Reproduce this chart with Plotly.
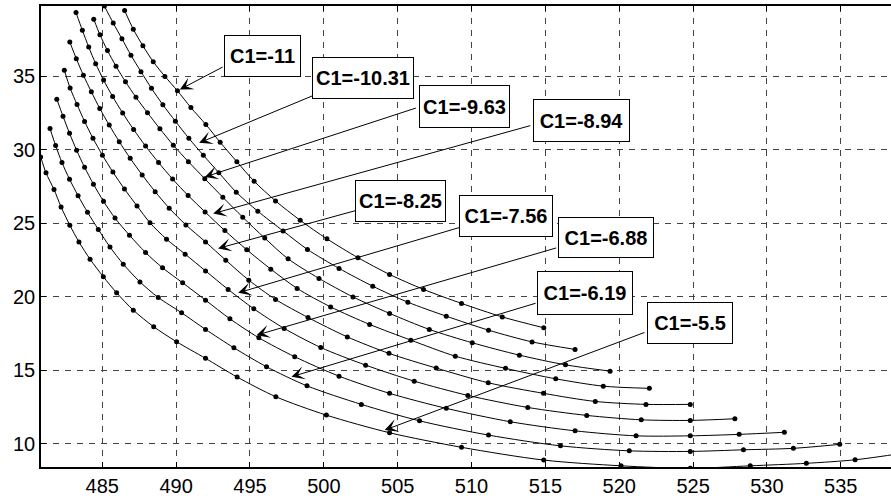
import plotly.graph_objects as go

# Constant-C1 curves: abscissa / ordinate of the computed points
x_c1_m11 = [486.51, 487.10, 487.75, 488.45, 489.24, 490.09, 491.00, 492.01, 492.98, 494.11,
            495.28, 496.73, 498.40, 500.21, 502.31, 504.45, 506.75, 509.32, 512.08, 514.89]
y_c1_m11 = [39.47, 38.20, 37.07, 35.99, 34.99, 34.01, 32.87, 31.72, 30.51, 29.19,
            27.86, 26.52, 25.20, 23.94, 22.66, 21.52, 20.50, 19.55, 18.63, 17.89]

x_c1_m1031 = [485.14, 485.74, 486.33, 486.94, 487.62, 488.33, 489.10, 489.95, 490.86, 491.84, 492.89,
              494.07, 495.53, 497.24, 498.89, 501.03, 503.31, 505.69, 508.29, 511.15, 514.10, 517.01]
y_c1_m1031 = [39.78, 38.62, 37.55, 36.43, 35.31, 34.18, 33.06, 31.94, 30.78, 29.63, 28.44,
              27.11, 25.82, 24.48, 23.22, 21.93, 20.72, 19.63, 18.68, 17.73, 16.93, 16.42]

x_c1_m963 = [484.42, 484.84, 485.35, 485.93, 486.57, 487.28, 488.06, 488.90, 489.81, 490.83, 491.94, 493.16,
             494.51, 496.00, 497.58, 499.67, 501.97, 504.45, 507.14, 510.05, 513.24, 516.36, 519.38]
y_c1_m963 = [38.88, 37.83, 36.75, 35.68, 34.63, 33.57, 32.52, 31.43, 30.31, 29.19, 28.03, 26.77,
             25.41, 23.99, 22.58, 21.25, 19.99, 18.87, 17.78, 16.87, 16.03, 15.37, 14.94]

x_c1_m894 = [483.22, 483.65, 484.08, 484.55, 485.09, 485.70, 486.38, 487.12, 487.93, 488.81, 489.76, 490.81,
             491.96, 493.30, 494.78, 496.41, 498.19, 500.46, 503.10, 505.89, 508.90, 512.30, 515.70, 518.92, 522.04]
y_c1_m894 = [39.33, 38.13, 36.99, 35.86, 34.74, 33.62, 32.50, 31.38, 30.25, 29.13, 28.01, 26.89,
             25.77, 24.50, 23.20, 21.88, 20.57, 19.31, 18.12, 17.05, 15.96, 15.13, 14.42, 13.92, 13.77]

x_c1_m825 = [482.80, 483.24, 483.72, 484.26, 484.83, 485.47, 486.15, 486.89, 487.70, 488.58, 489.53, 490.66,
             491.99, 493.36, 494.92, 496.73, 498.93, 501.59, 504.41, 507.61, 511.13, 514.87, 518.38, 521.81, 524.81]
y_c1_m825 = [37.33, 36.20, 35.07, 33.94, 32.81, 31.68, 30.55, 29.42, 28.29, 27.15, 26.03, 24.89,
             23.73, 22.49, 21.13, 19.82, 18.59, 17.27, 16.15, 15.15, 14.15, 13.43, 12.88, 12.68, 12.68]

x_c1_m756 = [482.43, 482.82, 483.29, 483.80, 484.37, 485.01, 485.72, 486.50, 487.35, 488.23, 489.35, 490.61,
             491.99, 493.52, 495.26, 497.31, 499.79, 502.83, 506.12, 509.75, 513.81, 517.80, 521.49, 524.81, 527.83]
y_c1_m756 = [35.41, 34.20, 33.08, 31.93, 30.78, 29.63, 28.48, 27.33, 26.18, 25.03, 23.92, 22.90,
             21.76, 20.50, 19.18, 17.85, 16.55, 15.35, 14.26, 13.29, 12.47, 11.93, 11.63, 11.59, 11.70]

x_c1_m688 = [481.92, 482.34, 482.78, 483.26, 483.80, 484.40, 485.08, 485.86, 486.84, 487.93, 489.08, 490.44,
             491.99, 493.64, 495.60, 498.03, 501.03, 504.45, 508.29, 512.62, 517.01, 521.14, 524.81, 528.12, 531.18]
y_c1_m688 = [33.44, 32.28, 31.12, 29.97, 28.81, 27.66, 26.50, 25.35, 24.19, 23.01, 21.97, 20.95,
             19.77, 18.50, 17.21, 15.92, 14.60, 13.43, 12.41, 11.50, 10.88, 10.54, 10.54, 10.64, 10.78]

x_c1_m619 = [481.46, 481.84, 482.27, 482.78, 483.36, 484.00, 484.73, 485.52, 486.42, 487.55, 488.79, 490.37,
             491.99, 493.91, 496.12, 498.86, 502.54, 506.48, 511.15, 516.02, 520.68, 524.81, 528.41, 531.79, 534.93]
y_c1_m619 = [31.44, 30.29, 29.13, 28.00, 26.88, 25.75, 24.58, 23.39, 22.22, 21.01, 19.95, 18.91,
             17.78, 16.53, 15.24, 13.94, 12.68, 11.56, 10.59, 9.86, 9.52, 9.48, 9.59, 9.69, 9.96]

x_c1_m55 = [480.83, 481.19, 481.73, 482.21, 482.80, 483.42, 484.17, 485.07, 485.97, 487.10, 488.48, 490.03,
            491.99, 494.13, 496.75, 500.17, 504.45, 509.32, 514.89, 520.12, 524.81, 528.87, 532.67, 535.97, 539.28]
y_c1_m55 = [29.51, 28.43, 27.30, 26.11, 24.87, 23.73, 22.56, 21.36, 20.27, 19.09, 17.96, 16.94,
            15.81, 14.54, 13.20, 11.95, 10.75, 9.76, 8.89, 8.50, 8.33, 8.50, 8.67, 8.91, 9.37]

curves_x = [x_c1_m11, x_c1_m1031, x_c1_m963, x_c1_m894, x_c1_m825,
            x_c1_m756, x_c1_m688, x_c1_m619, x_c1_m55]
curves_y = [y_c1_m11, y_c1_m1031, y_c1_m963, y_c1_m894, y_c1_m825,
            y_c1_m756, y_c1_m688, y_c1_m619, y_c1_m55]

# Labels, the point each arrow targets, the arrow tail, and the label box centre
label_text = ["C1=-11", "C1=-10.31", "C1=-9.63", "C1=-8.94", "C1=-8.25",
              "C1=-7.56", "C1=-6.88", "C1=-6.19", "C1=-5.5"]
tip_x = [490.25, 491.56, 491.94, 492.51, 492.84, 494.20, 495.44, 497.81, 504.12]
tip_y = [34.10, 30.47, 28.15, 25.66, 23.29, 20.27, 17.39, 14.56, 10.93]
tail_x = [493.25, 499.45, 506.33, 514.08, 502.43, 509.48, 515.83, 514.44, 521.81]
tail_y = [35.68, 33.76, 32.87, 31.67, 25.94, 24.80, 23.35, 19.59, 17.61]
box_x = [495.85, 502.65, 509.51, 517.42, 505.18, 512.30, 519.07, 517.67, 524.82]
box_y = [36.41, 34.90, 32.97, 31.99, 26.54, 25.52, 24.00, 20.23, 18.19]
box_w = [75, 100, 89, 95, 89, 92, 94, 94, 84]
box_h = [40, 40, 41, 41, 40, 40, 39, 42, 40]

x_ticks = [485, 490, 495, 500, 505, 510, 515, 520, 525, 530, 535]
y_ticks = [10, 15, 20, 25, 30, 35]

fig = go.Figure()

for cx, cy in zip(curves_x, curves_y):
    fig.add_trace(go.Scatter(
        x=cx, y=cy, mode="lines+markers",
        line=dict(color="black", width=1, shape="spline", smoothing=0.8),
        marker=dict(color="black", size=5),
        hoverinfo="skip",
    ))

annotations = []
for i in range(len(label_text)):
    annotations.append(dict(
        x=tip_x[i], y=tip_y[i], xref="x", yref="y",
        ax=tail_x[i], ay=tail_y[i], axref="x", ayref="y",
        text="", showarrow=True, arrowhead=3, arrowsize=2.2,
        arrowwidth=1, arrowcolor="black",
    ))
    annotations.append(dict(
        x=box_x[i], y=box_y[i], xref="x", yref="y",
        text="<b>" + label_text[i] + "</b>", showarrow=False,
        width=box_w[i], height=box_h[i], align="center", valign="middle",
        bgcolor="white", bordercolor="black", borderwidth=1, borderpad=0,
        font=dict(family="Liberation Sans, Arial", size=20, color="black"),
    ))

grid_style = dict(showgrid=True, gridcolor="#444444", gridwidth=1, griddash="6px,6px",
                  showline=True, linecolor="black", linewidth=1.5,
                  ticks="inside", ticklen=5, tickcolor="black", tickwidth=1,
                  zeroline=False,
                  tickfont=dict(family="Liberation Sans, Arial", size=20, color="black"))

fig.update_layout(
    width=891, height=499,
    margin=dict(l=41, r=0, t=6, b=32),
    paper_bgcolor="white", plot_bgcolor="white",
    showlegend=False,
    xaxis=dict(range=[480.85, 538.4], tickvals=x_ticks, mirror="ticks", **grid_style),
    yaxis=dict(range=[8.42, 39.78], tickvals=y_ticks, mirror=False, **grid_style),
    annotations=annotations,
)

fig.write_html("out.html")
